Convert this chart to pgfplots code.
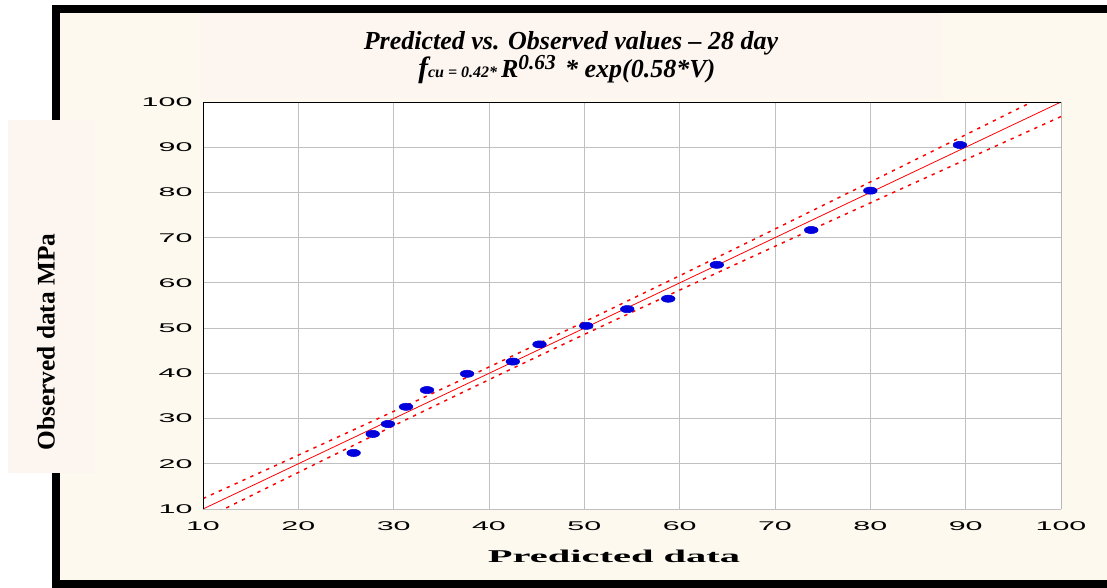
\documentclass[border=0pt]{standalone}
\usepackage{pgfplots}
\pgfplotsset{compat=1.18}
\usepackage{fontspec}
\setmainfont{Liberation Serif}
\newfontfamily\tickfont[FakeStretch=2.4]{Liberation Sans}
\newfontfamily\xlabfont[FakeStretch=2.25]{Liberation Serif}
\definecolor{cream}{RGB}{253,249,239}
\definecolor{pinkbg}{RGB}{253,245,240}
\definecolor{ptblue}{RGB}{0,0,220}
\definecolor{gridgray}{RGB}{192,192,192}
\begin{document}
\begin{tikzpicture}
\clip (0,0) rectangle (830.25pt,-441pt);
\fill[white] (0,0) rectangle (830.25pt,-441pt);
\fill[black] (39pt,-3.75pt) rectangle (840pt,-450pt);
\fill[cream] (45pt,-9.75pt) rectangle (840pt,-435pt);
\fill[pinkbg] (150pt,-9.75pt) rectangle (706.5pt,-73.5pt);
\fill[pinkbg] (6pt,-90pt) rectangle (71.25pt,-354.75pt);
\node[anchor=base, inner sep=0pt] at (428.25pt,-37pt) {\fontsize{19.5}{21}\selectfont\bfseries\itshape Predicted vs. Observed values – 28 day};
\node[anchor=base west, inner sep=0pt] at (313.5pt,-58.5pt) {\bfseries\itshape{\fontsize{22}{23}\selectfont f}{\fontsize{12}{13}\selectfont cu = 0.42*}\hspace{3pt}{\fontsize{19.5}{21}\selectfont R}\raisebox{6.5pt}{\fontsize{16}{17}\selectfont 0.63}\hspace{7pt}{\fontsize{19.5}{21}\selectfont * exp(0.58*V)}};
\node[rotate=90] at (34.5pt,-256.5pt) {\fontsize{19}{20}\selectfont\bfseries Observed data MPa};
\node[anchor=base] at (460.5pt,-422pt) {\xlabfont\fontsize{13.5}{15}\selectfont\bfseries Predicted data};
\begin{axis}[at={(152.25pt,-381.75pt)}, anchor=south west, scale only axis,
  width=643.5pt, height=305.25pt,
  xmin=10, xmax=100, ymin=10, ymax=100,
  xtick={10,20,...,100}, ytick={10,20,...,100},
  grid=major, major grid style={gridgray, line width=0.75pt},
  major tick length=0pt, tick style={draw=none},
  axis line style={draw=none},
  axis background/.style={fill=white},
  /pgf/number format/assume math mode=true,
  ticklabel style={font=\tickfont\fontsize{9.5}{10}\selectfont},
  xticklabel style={anchor=north, inner sep=0pt, yshift=-9.4pt},
  yticklabel style={anchor=east, inner sep=0pt, xshift=-7.7pt},
  clip=true]
\addplot[red, line width=1.1pt, dash pattern=on 2.5pt off 4pt, smooth] coordinates {
(10,12.31)(20,21.91)(30,31.59)(40,41.40)(45,46.38)(50,51.40)(60,61.59)(70,71.91)(80,82.31)(90,92.75)(100,103.22)};
\addplot[red, line width=1.1pt, dash pattern=on 2.5pt off 4pt, smooth] coordinates {
(10,7.69)(20,18.09)(30,28.41)(40,38.60)(45,43.62)(50,48.60)(60,58.41)(70,68.09)(80,77.69)(90,87.25)(100,96.78)};
\addplot[red, line width=0.6pt] coordinates {(10,10)(100,100)};
\addplot[only marks, mark=*, mark size=2.7pt, mark options={xscale=1.9, fill=ptblue, draw=ptblue}] coordinates {
(25.8,22.4)(27.8,26.6)(29.4,28.8)(31.3,32.6)(33.5,36.3)(37.7,39.9)(42.5,42.6)(45.3,46.4)(50.2,50.5)(54.5,54.2)(58.8,56.5)(63.9,64.0)(73.8,71.7)(80.0,80.4)(89.4,90.5)};
\draw[black, line width=0.75pt] (rel axis cs:0,0) -- (rel axis cs:0,1) -- (rel axis cs:1,1);
\draw[gray, line width=0.75pt] (rel axis cs:1,1) -- (rel axis cs:1,0);
\end{axis}
\end{tikzpicture}
\end{document}
